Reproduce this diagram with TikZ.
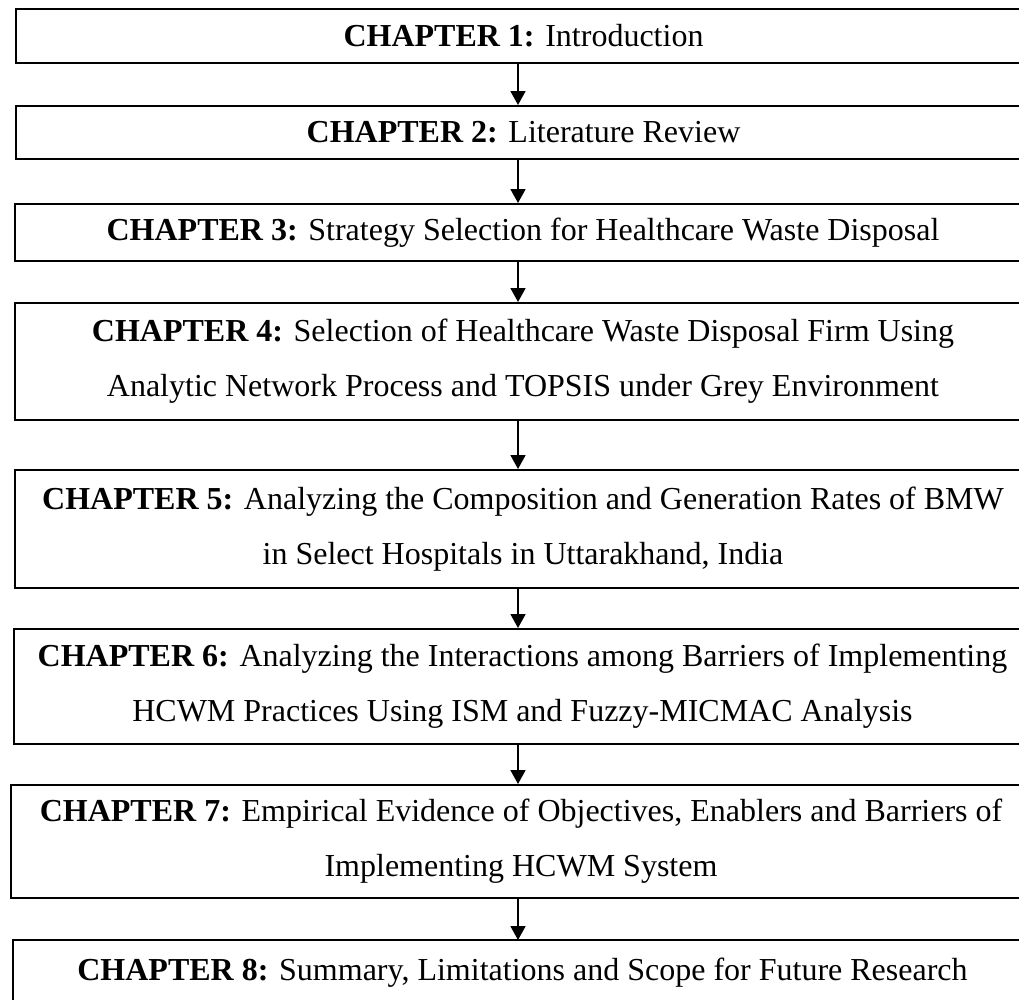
\documentclass[tikz,border=0pt]{standalone}
\usepackage{fontspec}
\setmainfont{Liberation Serif}
\usetikzlibrary{arrows.meta}
\begin{document}
\begin{tikzpicture}[x=1pt,y=-1pt,
  chapbox/.style={draw, line width=2pt, anchor=north west, inner sep=0pt,
    align=center, font=\fontsize{32}{55}\selectfont},
  flow/.style={line width=1.8pt, -{Triangle[width=15pt,length=14pt]}}]
\useasboundingbox (0,0) rectangle (1019,999);
\coordinate (ax) at (518,0);
\node[chapbox, minimum width=1015pt, minimum height=54pt] (c1) at (15,8)
  {\textbf{CHAPTER 1:} Introduction};
\node[chapbox, minimum width=1015pt, minimum height=53pt] (c2) at (15,105)
  {\textbf{CHAPTER 2:} Literature Review};
\node[chapbox, minimum width=1016pt, minimum height=57pt] (c3) at (14,203)
  {\textbf{CHAPTER 3:} Strategy Selection for Healthcare Waste Disposal};
\node[chapbox, minimum width=1016pt, minimum height=117pt] (c4) at (14,302)
  {\textbf{CHAPTER 4:} Selection of Healthcare Waste Disposal Firm Using\\
   Analytic Network Process and TOPSIS under Grey Environment};
\node[chapbox, minimum width=1016pt, minimum height=118pt] (c5) at (14,469)
  {\textbf{CHAPTER 5:} Analyzing the Composition and Generation Rates of BMW\\
   in Select Hospitals in Uttarakhand, India};
\node[chapbox, minimum width=1017pt, minimum height=115pt] (c6) at (13,628)
  {\textbf{CHAPTER 6:} Analyzing the Interactions among Barriers of Implementing\\
   HCWM Practices Using ISM and Fuzzy-MICMAC Analysis};
\node[chapbox, minimum width=1020pt, minimum height=113pt] (c7) at (10,784)
  {\textbf{CHAPTER 7:} Empirical Evidence of Objectives, Enablers and Barriers of\\
   Implementing HCWM System};
% the last box runs past the lower edge: only its top and sides show
\node[chapbox, draw=none, minimum width=1017pt, minimum height=56pt, text depth=0pt] (c8) at (13,940)
  {\textbf{CHAPTER 8:} Summary, Limitations and Scope for Future Research};
\draw[line width=2pt] ([yshift=-40pt]c8.south west) -- (c8.north west)
  -- (c8.north east) -- ([yshift=-40pt]c8.south east);
\foreach \a/\b in {c1/c2,c2/c3,c3/c4,c4/c5,c5/c6,c6/c7,c7/c8}
  \draw[flow] (\a.south -| ax) -- (\b.north -| ax);
\end{tikzpicture}
\end{document}
